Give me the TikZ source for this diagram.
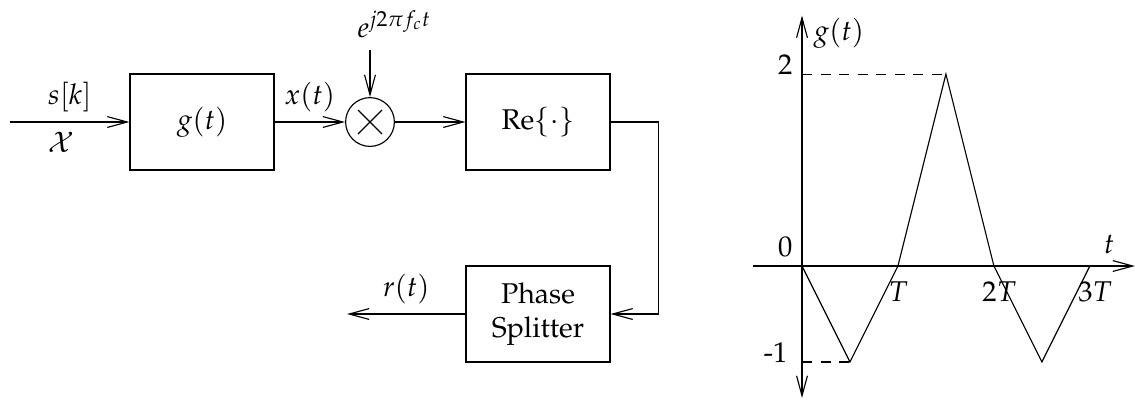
\documentclass[tikz,border=0pt]{standalone}
\usepackage[T1]{fontenc}
\usepackage{mathpazo}
\usetikzlibrary{arrows.meta}
\usetikzlibrary{positioning}

\tikzset{
  blk/.style={draw,thin,minimum width=1.77cm,minimum height=1.18cm,align=center},
  sig/.style={thin,-{Straight Barb[length=7pt,width=3.8pt]}},
  lbl/.style={inner sep=0pt},
}

\begin{document}
\begin{tikzpicture}[x=0.0123cm,y=-0.0123cm]
\useasboundingbox (0,0) rectangle (1135,405);
% transmitter / receiver chain
\coordinate (in) at (10,122);
\node[blk] (G) at (202,122) {$g(t)$};
\node[draw,thin,circle,minimum size=0.6cm,inner sep=0pt] (M) at (370,122) {};
\draw[thin] ([shift={(-12,-12)}]M.center) -- ([shift={(12,12)}]M.center);
\draw[thin] ([shift={(-12,12)}]M.center) -- ([shift={(12,-12)}]M.center);
\node[lbl,anchor=base west] (E) at (357,37) {$e^{j2\pi f_c t}$};
\coordinate (Ein) at (370,50);
\node[blk] (Re) at (538,122) {Re$\{\cdot\}$};
\node[blk] (PS) at (538,314) {Phase\\Splitter};
\coordinate (out) at (347,314);

\draw[sig] (in) -- node[above]{$s[k]$} node[below,xshift=-3pt]{$\mathcal{X}$} (G.west);
\draw[sig] (G.east) -- node[above]{$x(t)$} (M.west);
\draw[sig] (Ein) -- (M.north);
\draw[sig] (M.east) -- (Re.west);
\draw[sig] (Re.east) -- ++(48,0) |- (PS.east);
\draw[sig] (PS.west) -- node[above]{$r(t)$} (out);

% pulse g(t)
\begin{scope}[shift={(802,266)},x=1.18cm,y=1.18cm]
\draw[sig] (-0.51,0) -- (3.47,0);
\draw[thin,{Straight Barb[length=7pt,width=3.8pt]}-{Straight Barb[length=7pt,width=3.8pt]}] (0,-1.375) -- (0,2.61);
\draw[thin,dash pattern=on 3.5pt off 3pt] (0,2) -- (1.5,2);
\draw[thin,dash pattern=on 3.5pt off 3pt] (0,-1) -- (0.5,-1);
\draw[thin] (0,0) -- (0.5,-1) -- (1,0) -- (1.5,2) -- (2,0) -- (2.5,-1) -- (3,0);
\node[lbl,anchor=base east] (y2) at (-0.094,2) {2};
\node[lbl,anchor=base east] (y0) at (-0.094,0.104) {0};
\node[lbl,anchor=base east] (ym) at (-0.146,-1.01) {-1};
\node[lbl,anchor=base west] (gl) at (0.115,2.35) {$g(t)$};
\node[lbl,anchor=base] (tl) at (3.2,0.135) {$t$};
\node[lbl,anchor=base west] (t1) at (0.896,-0.375) {$T$};
\node[lbl,anchor=base west] (t2) at (1.875,-0.375) {$2T$};
\node[lbl,anchor=base west] (t3) at (2.875,-0.375) {$3T$};
\end{scope}

\end{tikzpicture}
\end{document}
